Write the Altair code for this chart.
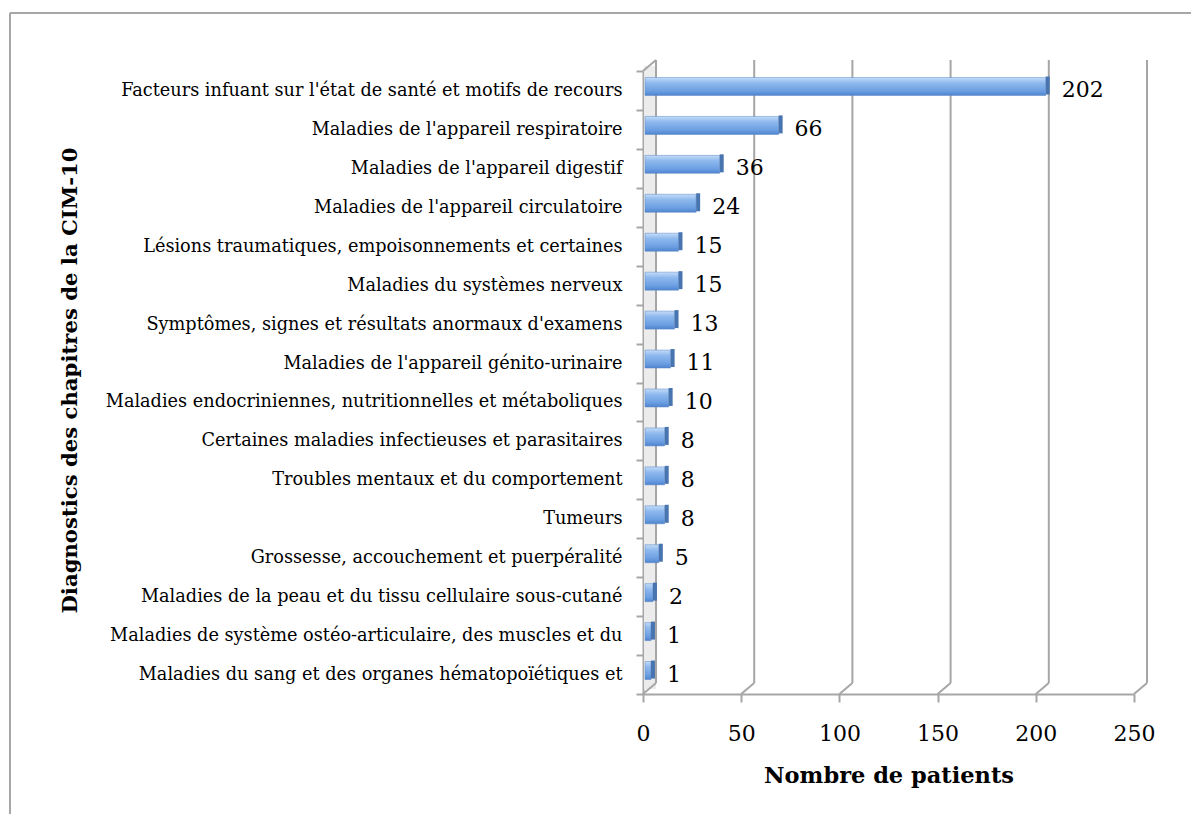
import altair as alt
import pandas as pd

categories = [
    "Facteurs infuant sur l'état de santé et motifs de recours",
    "Maladies de l'appareil respiratoire",
    "Maladies de l'appareil digestif",
    "Maladies de l'appareil circulatoire",
    "Lésions traumatiques, empoisonnements et certaines",
    "Maladies du systèmes nerveux",
    "Symptômes, signes et résultats anormaux d'examens",
    "Maladies de l'appareil génito-urinaire",
    "Maladies endocriniennes, nutritionnelles et métaboliques ",
    "Certaines maladies infectieuses et parasitaires",
    "Troubles mentaux et du comportement",
    "Tumeurs",
    "Grossesse, accouchement et puerpéralité",
    "Maladies de la peau et du tissu cellulaire sous-cutané",
    "Maladies de système ostéo-articulaire, des muscles et du",
    "Maladies du sang et des organes hématopoïétiques et",
]
values = [202, 66, 36, 24, 15, 15, 13, 11, 10, 8, 8, 8, 5, 2, 1, 1]
x_ticks = [0, 50, 100, 150, 200, 250]

x_title = "Nombre de patients"
y_title = "Diagnostics des chapitres de la CIM-10"

FONT = "DejaVu Serif"
GRID = "#a6a6a6"
W, H = 491, 623
DX, DY = 13, -11

df = pd.DataFrame({"cat": categories, "val": values})
grid_df = pd.DataFrame({"g": x_ticks})

xscale = alt.Scale(domain=[0, 250], nice=False)
yscale = alt.Scale(domain=categories, paddingInner=0, paddingOuter=0)

base = alt.Chart(df)
one = alt.Chart(grid_df).transform_filter("datum.g == 0")

# outer frame (decoration)
frame_top = one.mark_rule(color=GRID, strokeWidth=2, clip=False).encode(
    x=alt.value(-633), x2=alt.value(560), y=alt.value(-58))
frame_left = one.mark_rule(color=GRID, strokeWidth=2, clip=False).encode(
    x=alt.value(-633), y=alt.value(-58), y2=alt.value(760))

# left wall fill
wall = one.mark_rect(color="#ececec", clip=False).encode(
    x=alt.value(1), x2=alt.value(DX), y=alt.value(-5), y2=alt.value(H - 5))

# back-plane gridlines
grid_v = alt.Chart(grid_df).mark_rule(color=GRID, strokeWidth=2, xOffset=DX, x2Offset=DX).encode(
    x=alt.X("g:Q", scale=xscale),
    y=alt.value(DY),
    y2=alt.value(H + DY),
)
grid_diag = alt.Chart(grid_df).mark_rule(color=GRID, strokeWidth=2, x2Offset=DX).encode(
    x=alt.X("g:Q", scale=xscale),
    x2=alt.X2("g"),
    y=alt.value(H),
    y2=alt.value(H + DY),
)
wall_top = one.mark_rule(color=GRID, strokeWidth=2, x2Offset=DX).encode(
    x=alt.X("g:Q", scale=xscale),
    x2=alt.X2("g"),
    y=alt.value(0),
    y2=alt.value(DY),
)

grad = alt.Gradient(
    gradient="linear",
    x1=0, x2=0, y1=0, y2=1,
    stops=[
        alt.GradientStop(color="#c4dcf8", offset=0),
        alt.GradientStop(color="#8fb9ee", offset=0.3),
        alt.GradientStop(color="#6c9fe2", offset=0.75),
        alt.GradientStop(color="#4f84cf", offset=1),
    ],
)

bars = base.mark_bar(
    color=grad, size=18, xOffset=6, x2Offset=2, yOffset=-4, stroke="#5a86c4", strokeWidth=0.5
).encode(
    x=alt.X("val:Q", scale=xscale, title=x_title,
            axis=alt.Axis(values=x_ticks, grid=False, tickSize=8, tickColor=GRID, tickWidth=2,
                          domainColor=GRID, domainWidth=2, labelFont=FONT, labelFontSize=22,
                          labelFlush=False,
                          labelColor="black", labelPadding=21, titleFont=FONT, titleFontSize=22.5,
                          titleFontWeight="bold", titleColor="black",
                          titleY=81, titleBaseline="middle")),
    x2=alt.value(0),
    y=alt.Y("cat:N", scale=yscale, sort=categories, title=y_title,
            axis=alt.Axis(tickBand="extent", tickSize=7, tickColor=GRID, tickWidth=2,
                          domainColor=GRID, domainWidth=2, labelFont=FONT, labelFontSize=17.7,
                          labelColor="black", labelPadding=14, labelLimit=700,
                          titleFont=FONT, titleFontSize=21.2, titleFontWeight="bold",
                          titleColor="black", titleX=-573, titleY=309,
                          titleAlign="center", titleBaseline="middle", titleAngle=270)),
)

caps = base.mark_bar(color="#4874b0", size=18, xOffset=10, x2Offset=6, yOffset=-5).encode(
    x=alt.X("val:Q", scale=xscale),
    x2=alt.X2("val"),
    y=alt.Y("cat:N", scale=yscale, sort=categories),
)

labels = base.mark_text(align="left", baseline="middle", dx=22, font=FONT, fontSize=22, color="black").encode(
    x=alt.X("val:Q", scale=xscale),
    y=alt.Y("cat:N", scale=yscale, sort=categories),
    text=alt.Text("val:Q"),
)

chart = alt.layer(
    frame_top, frame_left, wall, grid_v, grid_diag, wall_top, bars, caps, labels
).properties(
    width=W, height=H,
    autosize=alt.AutoSizeParams(type="none"),
    padding={"left": 635, "top": 63, "right": 57, "bottom": 120},
).configure(background="white", view=alt.ViewConfig(stroke=None))

chart.save("out.html", embed_options={"renderer": "svg", "actions": False})
